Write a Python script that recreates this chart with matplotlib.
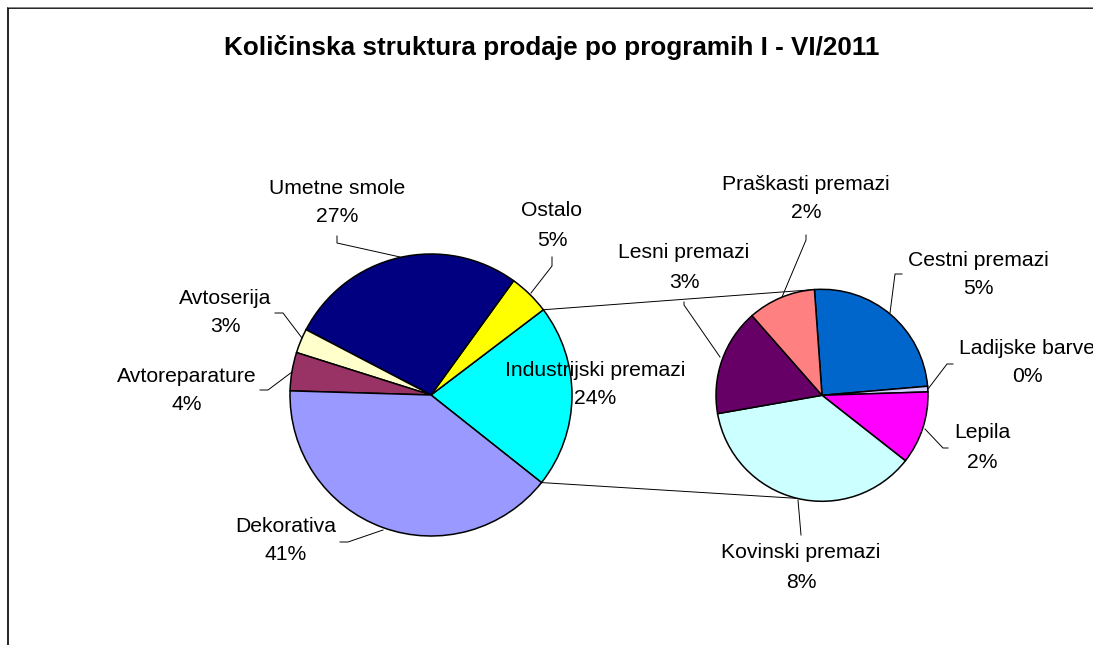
import matplotlib
matplotlib.use("Agg")
import matplotlib.pyplot as plt
import numpy as np

plt.rcParams['font.family'] = ['Liberation Sans', 'DejaVu Sans']

# ---------------- data ----------------
title = "Količinska struktura prodaje po programih I - VI/2011"

main_names = ["Industrijski premazi", "Ostalo", "Umetne smole", "Avtoserija",
              "Avtoreparature", "Dekorativa"]
main_values = [21.0, 4.7, 27.3, 2.8, 4.4, 39.8]
main_pct = ["24%", "5%", "27%", "3%", "4%", "41%"]
main_colors = ["#00FFFF", "#FFFF00", "#000080", "#FFFFCC", "#993366", "#9999FF"]

sub_names = ["Cestni premazi", "Ladijske barve", "Lepila", "Kovinski premazi",
             "Lesni premazi", "Praškasti premazi"]
sub_values = [5.2, 0.18, 2.33, 7.69, 3.42, 2.17]
sub_pct = ["5%", "0%", "2%", "8%", "3%", "2%"]
sub_colors = ["#0066CC", "#CCCCFF", "#FF00FF", "#CCFFFF", "#660066", "#FF8080"]

# ---------------- layout (pixel coordinates, y from top) ----------------
W, H = 1093, 645
fig = plt.figure(figsize=(W / 100, H / 100), dpi=100)
ax = fig.add_axes([0, 0, 1, 1])


def P(x, y):
    return x, H - y


main_c, main_r = (431, 395), 141
sub_c, sub_r = (822, 395.3), 106
main_start = -38.4
sub_start = 94.1

wp = dict(edgecolor='black', linewidth=1.1)
ax.pie(main_values, colors=main_colors, center=P(*main_c), radius=main_r,
       startangle=main_start, counterclock=True, wedgeprops=wp, frame=True)
ax.pie(sub_values, colors=sub_colors, center=P(*sub_c), radius=sub_r,
       startangle=sub_start, counterclock=False, wedgeprops=wp, frame=True)
ax.set_xlim(0, W)
ax.set_ylim(0, H)
ax.set_aspect('equal')
ax.axis('off')

# connector lines between the pies
a_up = np.deg2rad(main_start + 360 * main_values[0] / sum(main_values))
a_lo = np.deg2rad(main_start)
s_up = np.deg2rad(sub_start)
s_lo = np.deg2rad(-103.5)
mcx, mcy = P(*main_c)
scx, scy = P(*sub_c)
ax.plot([mcx + main_r * np.cos(a_up), scx + sub_r * np.cos(s_up)],
        [mcy + main_r * np.sin(a_up), scy + sub_r * np.sin(s_up)],
        color='black', lw=0.7, zorder=0.5)
ax.plot([mcx + main_r * np.cos(a_lo), scx + sub_r * np.cos(s_lo)],
        [mcy + main_r * np.sin(a_lo), scy + sub_r * np.sin(s_lo)],
        color='black', lw=0.7, zorder=0.5)

# labels: (center x, name y, pct y)
label_pos = {
    "Umetne smole": (337, 188, 216),
    "Ostalo": (552, 210, 240),
    "Avtoserija": (225, 298, 327),
    "Avtoreparature": (187, 376, 405),
    "Dekorativa": (286, 527, 555),
    "Industrijski premazi": (595, 370, 398),
    "Praškasti premazi": (806, 185, 213),
    "Lesni premazi": (684, 253, 282),
    "Cestni premazi": (978, 260, 288),
    "Ladijske barve": (1027, 348, 377),
    "Lepila": (982, 433, 462),
    "Kovinski premazi": (801, 553, 582),
}
leaders = {
    "Umetne smole": [(337, 236), (337, 243), (400, 257)],
    "Ostalo": [(552, 257), (552, 266), (531, 293)],
    "Avtoserija": [(275, 313), (283, 313), (302, 338)],
    "Avtoreparature": [(260, 390), (268, 390), (292, 372)],
    "Dekorativa": [(340, 542), (348, 542), (383, 530)],
    "Praškasti premazi": [(806, 235), (806, 240), (782, 297)],
    "Lesni premazi": [(684, 302), (684, 305), (720, 357)],
    "Cestni premazi": [(902, 274), (895, 274), (890, 313)],
    "Ladijske barve": [(953, 364), (947, 364), (928, 389)],
    "Lepila": [(948, 448), (943, 448), (925, 429)],
    "Kovinski premazi": [(801, 535), (798, 500)],
}

fs = 15.2
for names, pcts in ((main_names, main_pct), (sub_names, sub_pct)):
    for n, p in zip(names, pcts):
        x, y1, y2 = label_pos[n]
        ax.text(*P(x, y1), n, ha='center', va='center', fontsize=fs, color='black', zorder=5)
        ax.text(*P(x, y2), p, ha='center', va='center', fontsize=fs, color='black', zorder=5)
        if n in leaders:
            pts = [P(*q) for q in leaders[n]]
            ax.plot([q[0] for q in pts], [q[1] for q in pts], color='black', lw=0.7, zorder=4)

ax.text(*P(552, 47), title, ha='center', va='center', fontsize=18.8,
        fontweight='bold', color='black')

# chart border (cropped at right and bottom)
ax.plot([7.5, 7.5, W + 5], [-5, H - 8, H - 8], color='black', lw=1.2,
        solid_joinstyle='miter', clip_on=False)
ax.plot([7.5, W + 5], [H - 6.8, H - 6.8], color='#999999', lw=0.6)

fig.savefig("out.png", dpi=100)
